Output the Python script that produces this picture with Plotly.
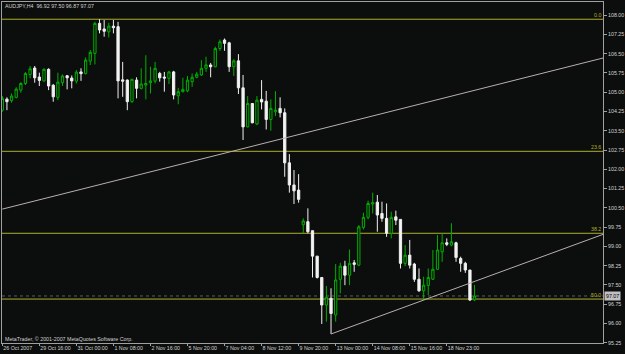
import plotly.graph_objects as go

# ---- data (AUDJPY, H4) ----
bars = list(range(103))
opens = [104.30,104.73,104.67,104.80,105.08,105.34,105.69,105.94,105.59,105.44,
         105.89,105.27,104.80,105.37,105.64,105.55,105.43,105.79,105.73,106.21,
         106.51,107.68,107.46,107.35,107.57,107.55,105.48,105.47,104.63,105.47,
         105.15,105.28,105.37,105.43,105.73,105.59,105.54,105.79,104.86,105.02,
         105.05,105.41,105.58,105.67,105.93,106.06,105.99,106.70,107.03,106.92,
         105.99,106.22,105.17,103.65,104.56,103.76,104.72,104.65,103.94,104.24,
         104.37,104.20,102.25,101.39,101.19,99.84,99.96,99.61,98.62,97.79,
         96.72,96.98,96.33,97.72,98.23,97.88,98.36,98.27,99.74,100.13,
         100.65,100.72,100.28,100.09,99.51,100.15,100.05,98.34,98.66,98.31,
         97.72,97.27,97.48,97.72,98.11,98.79,99.14,99.05,99.14,98.53,
         98.34,98.08,96.92]
highs = [104.85,104.80,104.95,105.19,105.39,105.78,106.02,106.02,105.76,105.93,
         105.93,105.32,105.76,105.69,105.67,105.65,105.86,105.93,106.35,106.64,
         107.74,107.84,107.81,107.70,107.81,107.74,106.18,105.50,105.52,105.58,
         105.93,106.44,105.99,106.18,105.79,105.79,105.83,105.83,105.17,105.56,
         105.63,105.73,105.79,106.25,106.38,106.14,106.77,107.05,107.09,106.96,
         106.28,106.48,105.67,104.85,104.58,104.85,105.47,105.05,104.72,105.04,
         104.80,104.37,102.59,101.97,101.81,100.09,100.48,99.61,98.62,97.79,
         97.46,97.37,98.31,98.36,98.44,98.88,98.47,99.83,100.31,100.78,
         101.09,101.00,100.74,100.67,100.35,100.39,100.05,99.05,99.25,98.36,
         98.14,97.82,98.14,98.86,99.44,99.51,99.31,99.90,99.18,98.60,
         98.40,98.08,97.50]
lows = [104.24,104.30,104.59,104.76,104.98,105.28,105.54,105.37,105.24,105.41,
        105.08,104.63,104.69,105.24,105.11,105.15,105.34,105.44,105.69,106.06,
        106.08,107.29,107.16,107.13,107.29,104.76,104.82,104.30,104.59,104.76,
        105.11,104.72,104.95,105.34,105.41,105.02,105.32,104.72,104.53,104.99,
        105.00,105.21,105.54,105.63,105.79,105.58,105.97,106.61,106.61,105.79,
        105.63,104.93,103.14,103.63,103.79,103.72,104.33,103.55,103.50,104.07,
        104.02,101.71,101.09,100.65,100.70,99.51,99.51,97.79,97.75,95.98,
        96.07,95.59,96.07,97.17,97.49,97.49,98.01,98.23,99.66,100.05,
        100.28,99.57,99.96,99.37,99.31,99.83,98.14,98.23,98.14,97.62,
        97.23,96.91,97.11,97.69,98.08,98.40,99.01,99.00,98.40,98.01,
        97.97,96.88,96.87]
closes = [104.76,104.63,104.85,105.12,105.34,105.73,105.91,105.56,105.46,105.89,
          105.24,104.82,105.39,105.63,105.56,105.44,105.78,105.72,106.25,106.55,
          107.68,107.42,107.37,107.57,107.51,105.44,105.43,104.63,105.50,105.15,
          105.32,105.34,105.44,105.93,105.56,105.55,105.79,104.89,105.02,105.11,
          105.47,105.58,105.70,105.93,106.06,105.99,106.70,106.96,106.90,105.99,
          106.22,105.17,103.65,104.56,103.81,104.69,104.62,103.94,104.37,104.30,
          104.20,102.25,101.39,101.16,100.83,99.99,99.57,98.62,97.79,96.72,
          97.02,96.39,97.69,98.23,97.88,98.34,98.30,99.76,100.13,100.67,
          100.70,100.22,100.09,99.51,100.13,100.02,98.34,98.66,98.27,97.72,
          97.27,97.49,97.79,98.11,98.86,99.14,99.08,99.18,98.57,98.34,
          98.08,96.91,97.07]

tick_bars = [0, 8, 16, 24, 32, 40, 48, 56, 64, 72, 80, 88, 96]
tick_text = ["26 Oct 2007", "29 Oct 16:00", "31 Oct 00:00", "1 Nov 08:00",
             "2 Nov 16:00", "5 Nov 20:00", "7 Nov 04:00", "8 Nov 12:00",
             "9 Nov 20:00", "13 Nov 00:00", "14 Nov 08:00", "15 Nov 16:00",
             "18 Nov 23:00"]
price_ticks = [108.00, 107.25, 106.50, 105.75, 105.00, 104.25, 103.50, 102.75,
               102.00, 101.25, 100.50, 99.75, 99.00, 98.25, 97.50, 96.75,
               96.00, 95.25]

fib_names = ["0.0", "23.6", "38.2", "50.0"]
fib_prices = [107.84, 102.70, 99.51, 96.95]

trend_up_x = [0, 129.74]
trend_up_y = [100.45, 106.33]
support_x = [71, 91]          # anchor bars of lower trend line
support_y = [95.59, 96.91]

last_price = 97.07
title_text = "AUDJPY,H4  96.92 97.50 96.87 97.07"
copyright_text = "MetaTrader, \u00a9 2001-2007 MetaQuotes Software Corp."

X_RANGE = [-0.065, 129.74]
Y_RANGE = [95.24, 108.51]

BG = "#0c0d0d"
AXC = "#a0a0a0"
TXT = "#d2d2d2"
FIBC = "#b0b028"
FONT = "Liberation Sans"
FS = 5.3

fig = go.Figure()
fig.add_trace(go.Candlestick(
    x=bars, open=opens, high=highs, low=lows, close=closes,
    increasing=dict(line=dict(color="#00b000", width=1), fillcolor=BG),
    decreasing=dict(line=dict(color="#f0f0f0", width=1), fillcolor="#f4f4f4"),
    whiskerwidth=0, hoverinfo="skip", showlegend=False,
))

shapes = []
for p in fib_prices:
    shapes.append(dict(type="line", xref="paper", yref="y", x0=0, x1=1, y0=p, y1=p,
                       line=dict(color=FIBC, width=1), layer="below"))
shapes.append(dict(type="line", xref="paper", yref="y", x0=0, x1=1,
                   y0=last_price, y1=last_price,
                   line=dict(color="#56606a", width=1, dash="dot"), layer="below"))
shapes.append(dict(type="line", xref="x", yref="y", x0=trend_up_x[0], x1=trend_up_x[1],
                   y0=trend_up_y[0], y1=trend_up_y[1],
                   line=dict(color="#b8b0ae", width=1)))
slope = (support_y[1] - support_y[0]) / (support_x[1] - support_x[0])
x_end = X_RANGE[1]
shapes.append(dict(type="line", xref="x", yref="y", x0=support_x[0], x1=x_end,
                   y0=support_y[0], y1=support_y[0] + slope * (x_end - support_x[0]),
                   line=dict(color="#b8b0ae", width=1)))

annotations = []
for name, p in zip(fib_names, fib_prices):
    annotations.append(dict(xref="paper", yref="y", x=0.998, y=p, text=name,
                            xanchor="right", yanchor="bottom", showarrow=False,
                            font=dict(family=FONT, size=FS, color=FIBC),
                            borderpad=0, yshift=0))
annotations.append(dict(xref="paper", yref="paper", x=0.0033, y=0.988, text=title_text,
                        xanchor="left", yanchor="middle", showarrow=False,
                        font=dict(family=FONT, size=FS, color=TXT), borderpad=0))
annotations.append(dict(xref="paper", yref="paper", x=0.0033, y=0.012, text=copyright_text,
                        xanchor="left", yanchor="middle", showarrow=False,
                        font=dict(family=FONT, size=FS, color=TXT), borderpad=0))
annotations.append(dict(xref="paper", yref="y", x=1.002, y=last_price,
                        text=f"{last_price:.2f}", xanchor="left", yanchor="middle",
                        showarrow=False, bgcolor="#c0c0c0",
                        font=dict(family=FONT, size=FS, color="#000000"), borderpad=1))

fig.update_layout(
    width=625, height=354,
    margin=dict(l=2, r=22, t=2, b=11),
    paper_bgcolor=BG, plot_bgcolor=BG,
    shapes=shapes, annotations=annotations,
    font=dict(family=FONT, size=FS, color=TXT),
    xaxis=dict(range=X_RANGE, rangeslider=dict(visible=False),
               tickmode="array", tickvals=tick_bars, ticktext=tick_text,
               ticks="outside", ticklen=2, tickcolor=AXC, tickangle=0,
               ticklabelposition="outside right", automargin=False,
               showgrid=False, zeroline=False,
               showline=True, linecolor=AXC, linewidth=1, mirror=True,
               tickfont=dict(family=FONT, size=FS, color=TXT)),
    yaxis=dict(range=Y_RANGE, side="right", automargin=False,
               tickmode="array", tickvals=price_ticks, tickformat=".2f",
               ticks="outside", ticklen=3, tickcolor=AXC,
               showgrid=False, zeroline=False,
               showline=True, linecolor=AXC, linewidth=1, mirror=True,
               tickfont=dict(family=FONT, size=FS, color=TXT)),
)

fig.write_html("out.html")
